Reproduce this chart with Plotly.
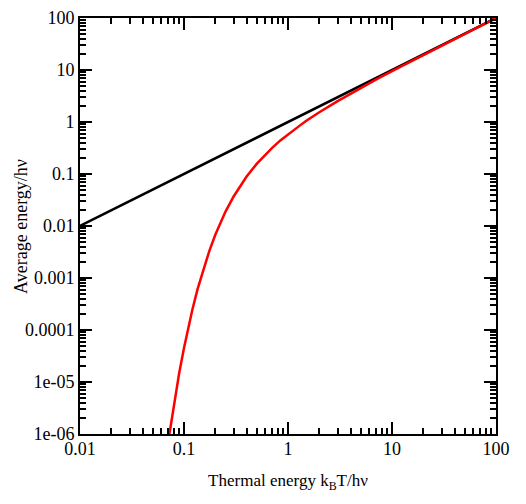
"""Classical vs quantum average oscillator energy, log-log"""
import plotly.graph_objects as go

# thermal energy kT/hv
classical_x = [0.01, 0.02, 0.05, 0.1, 0.2, 0.5, 1, 2, 5, 10, 20, 50, 100]
classical_y = [0.01, 0.02, 0.05, 0.1, 0.2, 0.5, 1, 2, 5, 10, 20, 50, 100]

quantum_x = [0.0724, 0.08, 0.09, 0.1, 0.11, 0.12, 0.135, 0.15, 0.175, 0.2, 0.25,
             0.3, 0.35, 0.4, 0.5, 0.6, 0.7, 0.85, 1, 1.25, 1.5, 2, 3, 5, 7,
             10, 20, 50, 100]
quantum_y = [1.0e-6, 3.7e-6, 1.5e-5, 4.5e-5, 1.13e-4, 2.4e-4, 6.1e-4, 1.27e-3,
             3.3e-3, 6.8e-3, 1.87e-2, 3.70e-2, 6.1e-2, 8.94e-2, 0.1565, 0.232,
             0.315, 0.447, 0.582, 0.806, 1.055, 1.541, 2.52, 4.52, 6.51,
             9.51, 19.5, 49.5, 99.5]

x_ticks = [0.01, 0.1, 1, 10, 100]
x_labels = ['0.01', '0.1', '1', '10', '100']
y_ticks = [1e-6, 1e-5, 1e-4, 1e-3, 1e-2, 1e-1, 1, 10, 100]
y_labels = ['1e-06', '1e-05', '0.0001', '0.001', '0.01', '0.1', '1', '10', '100']

fig = go.Figure()
fig.add_trace(go.Scatter(x=classical_x, y=classical_y, mode='lines',
                         line=dict(color='black', width=2.5)))
fig.add_trace(go.Scatter(x=quantum_x, y=quantum_y, mode='lines',
                         line=dict(color='#ff0000', width=2.5)))

axis_common = dict(
    type='log',
    automargin=False,
    showgrid=False,
    zeroline=False,
    showline=True,
    linecolor='black',
    linewidth=2,
    mirror='ticks',
    ticks='inside',
    ticklen=12,
    tickwidth=2,
    tickcolor='black',
    minor=dict(ticks='inside', ticklen=6, tickwidth=1.5, tickcolor='black',
               showgrid=False, dtick='D1'),
    tickfont=dict(family='Liberation Serif', size=18, color='black'),
)

# page body adds 8px offset, so margins are trimmed to match
fig.update_layout(
    width=526,
    height=504,
    showlegend=False,
    plot_bgcolor='white',
    paper_bgcolor='white',
    margin=dict(l=72, r=38, t=10, b=78),
    font=dict(family='Liberation Serif', size=17, color='black'),
    xaxis=dict(axis_common, range=[-2, 2], tickvals=x_ticks, ticktext=x_labels,
               ticklabelstandoff=-3,
               title=dict(text='Thermal energy k<sub>B</sub>T/hν', standoff=17,
                          font=dict(size=17))),
    yaxis=dict(axis_common, range=[-6, 2], tickvals=y_ticks, ticktext=y_labels,
               ticklabelstandoff=0),
)

# y title as rotated annotation so it sits where the original does
fig.add_annotation(
    text='Average energy/hν', textangle=-90,
    xref='paper', yref='paper', x=-0.142, y=0.5,
    xanchor='center', yanchor='middle', showarrow=False,
    font=dict(family='Liberation Serif', size=18, color='black'),
)

fig.write_html("out.html")
